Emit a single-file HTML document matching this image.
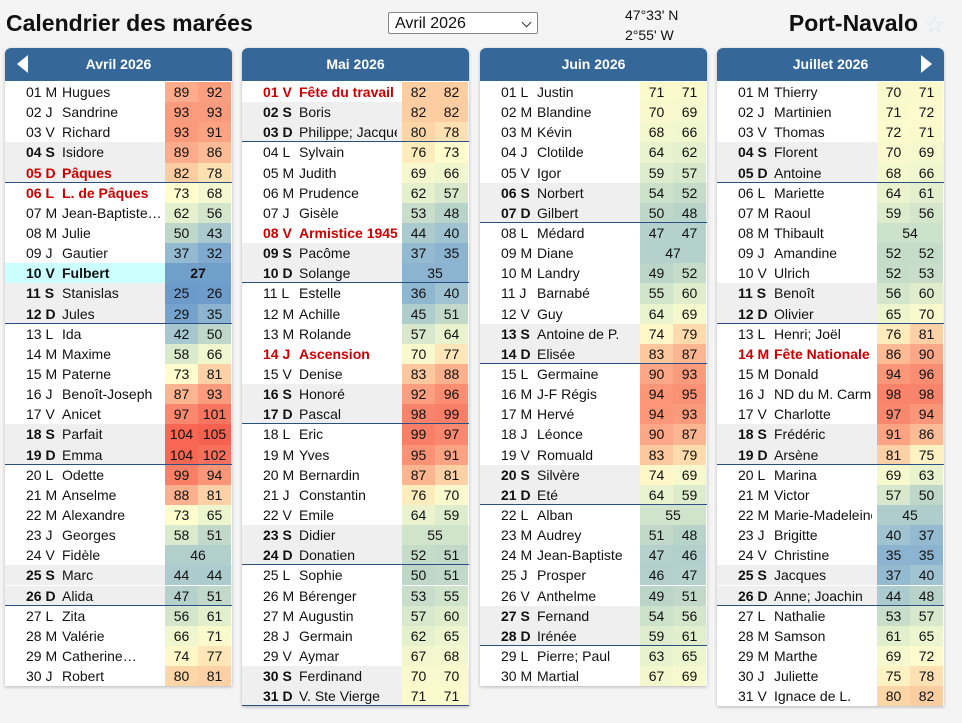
<!DOCTYPE html>
<html><head><meta charset="utf-8">
<style>
html,body{margin:0;padding:0;}
body{width:962px;height:723px;background:#f4f4f4;font-family:"Liberation Sans",sans-serif;position:relative;overflow:hidden;color:#111;}
.title{position:absolute;left:6px;top:10px;font-size:23px;font-weight:bold;}
.port{position:absolute;right:44px;top:10px;font-size:23px;font-weight:bold;}
.star{position:absolute;left:924px;top:11px;font-size:24px;color:#dfe4ea;}
.sel{position:absolute;left:388px;top:12px;height:22px;border:1px solid #888;border-radius:2px;background:#fff;font-size:16px;line-height:22px;padding-left:6px;box-sizing:border-box;width:150px;}
.sel:after{content:"";position:absolute;right:7px;top:6px;width:6px;height:6px;border-right:1.5px solid #333;border-bottom:1.5px solid #333;transform:rotate(45deg);}
.coord{position:absolute;left:625px;font-size:14px;}
.card{position:absolute;top:48px;width:227px;background:#fff;box-shadow:0 1px 3px rgba(0,0,0,.25);border-radius:6px 6px 0 0;}
.hdr{height:33px;background:#356898;border-radius:6px 6px 0 0;color:#fff;font-weight:bold;font-size:14px;text-align:center;line-height:33px;position:relative;}
.row{position:absolute;left:0;width:227px;height:20.14px;font-size:14px;line-height:20px;}
.row.we{background:#efefef;}
.row.today{background:#ccffff;font-weight:bold;}
.row.sep{border-bottom:1px solid #2a4f84;box-sizing:border-box;}
.day{position:absolute;left:21px;top:0;white-space:nowrap;}
.nm{position:absolute;left:57px;width:98px;overflow:hidden;white-space:nowrap;top:0;}
.c{position:absolute;top:0;height:100%;text-align:center;}
.hol{color:#cc0000;font-weight:bold;}
.we .day{font-weight:bold;}
.arrL{position:absolute;left:12px;top:7px;width:0;height:0;border-top:9px solid transparent;border-bottom:9px solid transparent;border-right:11px solid #fff;}
.arrR{position:absolute;right:12px;top:7px;width:0;height:0;border-top:9px solid transparent;border-bottom:9px solid transparent;border-left:11px solid #fff;}
</style></head><body>
<div class="title">Calendrier des marées</div>
<div class="sel">Avril 2026</div>
<div class="coord" style="top:7px">47°33' N</div>
<div class="coord" style="top:27px">2°55' W</div>
<div class="port">Port-Navalo</div>
<div class="star">☆</div>
<div id="wrap"></div>
<script>
const months=["Avril 2026","Mai 2026","Juin 2026","Juillet 2026"];
const lefts=[5,242,480,717];
const avril=[["01 M","Hugues",89,92],["02 J","Sandrine",93,93],["03 V","Richard",93,91],["04 S","Isidore",89,86],["05 D","Pâques",82,78,"h"],["06 L","L. de Pâques",73,68,"h"],["07 M","Jean-Baptiste…",62,56],["08 M","Julie",50,43],["09 J","Gautier",37,32],["10 V","Fulbert",27,null,"t"],["11 S","Stanislas",25,26],["12 D","Jules",29,35],["13 L","Ida",42,50],["14 M","Maxime",58,66],["15 M","Paterne",73,81],["16 J","Benoît-Joseph",87,93],["17 V","Anicet",97,101],["18 S","Parfait",104,105],["19 D","Emma",104,102],["20 L","Odette",99,94],["21 M","Anselme",88,81],["22 M","Alexandre",73,65],["23 J","Georges",58,51],["24 V","Fidèle",46,null],["25 S","Marc",44,44],["26 D","Alida",47,51],["27 L","Zita",56,61],["28 M","Valérie",66,71],["29 M","Catherine…",74,77],["30 J","Robert",80,81]];
const mai=[["01 V","Fête du travail",82,82,"h"],["02 S","Boris",82,82],["03 D","Philippe; Jacques",80,78],["04 L","Sylvain",76,73],["05 M","Judith",69,66],["06 M","Prudence",62,57],["07 J","Gisèle",53,48],["08 V","Armistice 1945",44,40,"h"],["09 S","Pacôme",37,35],["10 D","Solange",35,null],["11 L","Estelle",36,40],["12 M","Achille",45,51],["13 M","Rolande",57,64],["14 J","Ascension",70,77,"h"],["15 V","Denise",83,88],["16 S","Honoré",92,96],["17 D","Pascal",98,99],["18 L","Eric",99,97],["19 M","Yves",95,91],["20 M","Bernardin",87,81],["21 J","Constantin",76,70],["22 V","Emile",64,59],["23 S","Didier",55,null],["24 D","Donatien",52,51],["25 L","Sophie",50,51],["26 M","Bérenger",53,55],["27 M","Augustin",57,60],["28 J","Germain",62,65],["29 V","Aymar",67,68],["30 S","Ferdinand",70,70],["31 D","V. Ste Vierge",71,71]];
const juin=[["01 L","Justin",71,71],["02 M","Blandine",70,69],["03 M","Kévin",68,66],["04 J","Clotilde",64,62],["05 V","Igor",59,57],["06 S","Norbert",54,52],["07 D","Gilbert",50,48],["08 L","Médard",47,47],["09 M","Diane",47,null],["10 M","Landry",49,52],["11 J","Barnabé",55,60],["12 V","Guy",64,69],["13 S","Antoine de P.",74,79],["14 D","Elisée",83,87],["15 L","Germaine",90,93],["16 M","J-F Régis",94,95],["17 M","Hervé",94,93],["18 J","Léonce",90,87],["19 V","Romuald",83,79],["20 S","Silvère",74,69],["21 D","Eté",64,59],["22 L","Alban",55,null],["23 M","Audrey",51,48],["24 M","Jean-Baptiste",47,46],["25 J","Prosper",46,47],["26 V","Anthelme",49,51],["27 S","Fernand",54,56],["28 D","Irénée",59,61],["29 L","Pierre; Paul",63,65],["30 M","Martial",67,69]];
const juillet=[["01 M","Thierry",70,71],["02 J","Martinien",71,72],["03 V","Thomas",72,71],["04 S","Florent",70,69],["05 D","Antoine",68,66],["06 L","Mariette",64,61],["07 M","Raoul",59,56],["08 M","Thibault",54,null],["09 J","Amandine",52,52],["10 V","Ulrich",52,53],["11 S","Benoît",56,60],["12 D","Olivier",65,70],["13 L","Henri; Joël",76,81],["14 M","Fête Nationale",86,90,"h"],["15 M","Donald",94,96],["16 J","ND du M. Carmel",98,98],["17 V","Charlotte",97,94],["18 S","Frédéric",91,86],["19 D","Arsène",81,75],["20 L","Marina",69,63],["21 M","Victor",57,50],["22 M","Marie-Madeleine",45,null],["23 J","Brigitte",40,37],["24 V","Christine",35,35],["25 S","Jacques",37,40],["26 D","Anne; Joachin",44,48],["27 L","Nathalie",53,57],["28 M","Samson",61,65],["29 M","Marthe",69,72],["30 J","Juliette",75,78],["31 V","Ignace de L.",80,82]];
const data=[avril,mai,juin,juillet];
const stops=[[20,[95,145,200]],[30,[120,165,205]],[40,[160,195,210]],[50,[190,215,200]],[58,[218,234,204]],[66,[240,246,206]],[73,[255,252,205]],[80,[253,214,168]],[88,[252,176,142]],[95,[251,146,118]],[105,[247,98,80]]];
function col(v){
  if(v<=stops[0][0])return "rgb("+stops[0][1]+")";
  for(let i=1;i<stops.length;i++){if(v<=stops[i][0]){const a=stops[i-1],b=stops[i];const t=(v-a[0])/(b[0]-a[0]);return "rgb("+a[1].map((x,k)=>Math.round(x+(b[1][k]-x)*t)).join(",")+")";}}
  return "rgb("+stops[stops.length-1][1]+")";
}
const RH=20.14;
const wrap=document.getElementById('wrap');
data.forEach((rows,m)=>{
  const card=document.createElement('div');
  card.className='card';
  
  
  card.style.left=lefts[m]+'px';
  card.style.height=(34+rows.length*RH)+'px';
  const h=document.createElement('div');
  h.className='hdr';
  
  
  h.textContent=months[m];
  if(m===0){const a=document.createElement('div');a.className='arrL';
    
    
    h.appendChild(a);}
  if(m===3){const a=document.createElement('div');a.className='arrR';
    
    
    h.appendChild(a);}
  card.appendChild(h);
  rows.forEach((r,i)=>{
    const row=document.createElement('div');
    const dl=r[0].slice(-1);
    let cls='row';
    if(dl==='S'||dl==='D')cls+=' we';
    if(dl==='D')cls+=' sep';
    if(r[4]==='t')cls+=' today';
    row.className=cls;
    
    
    row.style.top=(34+i*RH)+'px';
    const d=document.createElement('span');d.className='day'+(r[4]==='h'?' hol':'');d.textContent=r[0];
    
    
    const n=document.createElement('span');n.className='nm'+(r[4]==='h'?' hol':'');n.textContent=r[1];
    
    
    row.appendChild(d);row.appendChild(n);
    if(r[3]===null||r[3]===undefined){
      const c=document.createElement('span');c.className='c';c.style.left='160px';c.style.width='66px';
      c.style.background=col(r[2]);c.textContent=r[2];
      
      
      row.appendChild(c);
    } else {
      [r[2],r[3]].forEach((v,k)=>{
        const c=document.createElement('span');c.className='c';c.style.left=(160+k*33)+'px';c.style.width='33px';
        c.style.background=col(v);c.textContent=v;
        
        
        row.appendChild(c);
      });
    }
    card.appendChild(row);
  });
  wrap.appendChild(card);
});
</script>
</body></html>
